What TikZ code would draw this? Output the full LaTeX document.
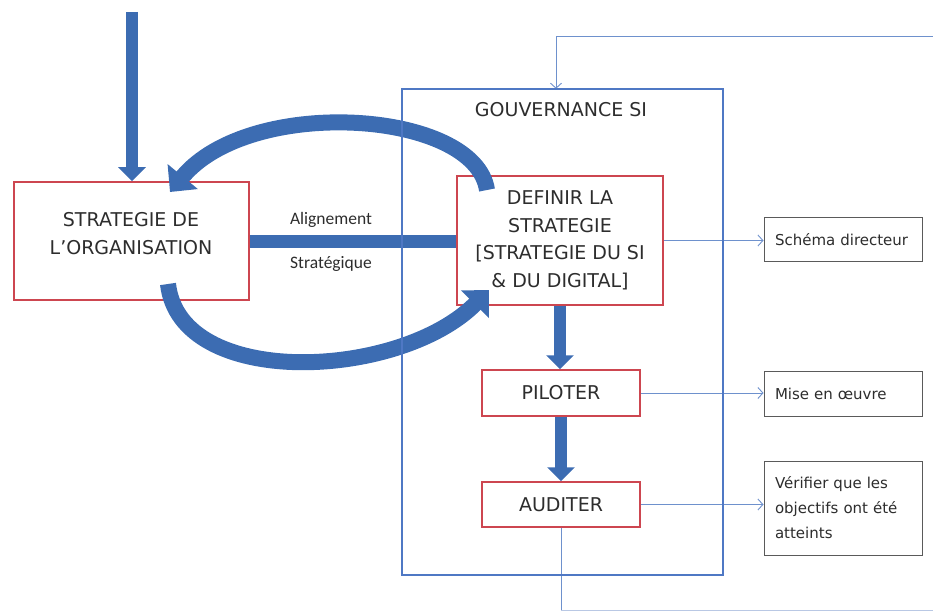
\documentclass[tikz,border=0pt]{standalone}
\usepackage{fontspec}
\setmainfont{DejaVu Sans}
\newfontfamily\calib{Carlito}
\usetikzlibrary{arrows.meta}
\definecolor{bandblue}{RGB}{60,108,178}
\definecolor{govblue}{RGB}{79,120,196}
\definecolor{boxred}{RGB}{205,70,80}
\definecolor{thinblue}{RGB}{110,145,205}
\definecolor{faintblue}{RGB}{185,200,228}
\definecolor{notegray}{RGB}{90,90,90}
\definecolor{txt}{RGB}{45,45,45}
\begin{document}
\begin{tikzpicture}[x=1pt,y=-1pt,
  redbox/.style={draw=boxred, line width=1.5pt, fill=white, inner sep=0pt},
  notebox/.style={draw=notegray, line width=1pt, fill=white, inner xsep=11pt, inner ysep=0pt, text width=136pt, align=left, font=\fontsize{15}{25}\selectfont, text=txt},
  boxtext/.style={font=\fontsize{19}{27.5}\selectfont, text=txt, align=center},
  band/.style={draw=bandblue, line width=13pt},
  bigarrow/.style={draw=bandblue, line width=12pt, -{Triangle[width=27pt,length=14pt]}},
  curvearrow/.style={draw=bandblue, line width=16pt, -{Triangle[width=38pt,length=20pt]}},
  thinarrow/.style={draw=thinblue, line width=0.9pt, -{Straight Barb[length=5pt,width=11pt]}},
  thinline/.style={draw=thinblue, line width=0.9pt},
  faintline/.style={draw=faintblue, line width=0.8pt},
  govline/.style={draw=govblue, line width=2.5pt}
]
\useasboundingbox (0,0) rectangle (933,612);

% outer frame (outline drawn last)
\node[minimum width=321pt, minimum height=486pt, inner sep=0pt] (gov) at (562.5,332) {};

% boxes
\node[redbox, minimum width=235pt, minimum height=118pt] (org) at (131.5,241) {};
\node[boxtext] (orgtxt) at (131,233.5) {STRATEGIE DE\\L'ORGANISATION};
\node[redbox, boxtext, minimum width=206pt, minimum height=129pt] (def) at (560,240.5) {DEFINIR LA\\STRATEGIE\\{[}STRATEGIE DU SI\\\& DU DIGITAL{]}};
\node[redbox, boxtext, minimum width=158pt, minimum height=46pt] (pil) at (561,393) {PILOTER};
\node[redbox, boxtext, minimum width=158pt, minimum height=45pt] (aud) at (561,504.5) {AUDITER};
\node[boxtext] (govtitle) at (561,110) {GOUVERNANCE SI};

\node[notebox, minimum height=44pt] (sch) at (843,239.5) {Schéma directeur};
\node[notebox, minimum height=45pt] (mise) at (843,393.5) {Mise en œuvre};
\node[notebox, minimum height=94pt] (ver) at (843,508) {Vérifier que les\\objectifs ont été\\atteints};

% labels of the alignment band
\node[font=\calib\fontsize{17.5}{20}\selectfont, text=txt] (al) at (331,220) {Alignement};
\node[font=\calib\fontsize{17.5}{20}\selectfont, text=txt] (st) at (331,264) {Stratégique};

% thick connectors
\coordinate (in) at (132,12);
\draw[bigarrow] (in) -- (in |- org.north);
\draw[band] (org.east) -- (org.east -| def.west);
\draw[bigarrow] (def.south) -- (def.south |- pil.north);
\draw[bigarrow] (pil.south) -- (aud.north);

\coordinate (u0) at (487,190);
\coordinate (u1) at (170,192);
\draw[curvearrow] (u0) .. controls (475,110) and (250,95) .. (u1);
\coordinate (l0) at (168,284);
\coordinate (l1) at (489,290);
\draw[curvearrow] (l0) .. controls (180,390) and (400,380) .. (l1);

% thin connectors
\draw[thinarrow] (def.east) -- (def.east -| sch.west);
\draw[thinarrow] (pil.east) -- (pil.east -| mise.west);
\draw[thinarrow] (aud.east) -- (aud.east -| ver.west);

\coordinate (fbR) at (933,36);
\coordinate (fbL) at (556,36);
\draw[thinarrow] (fbR) -- (fbL) -- (fbL |- gov.north);
\coordinate (fbB) at (933,610);
\draw[thinline] (aud.south) -- (aud.south |- fbB);
\draw[faintline] (aud.south |- fbB) -- (fbB);

% governance frame on top
\draw[govline] (gov.north west) rectangle (gov.south east);
\end{tikzpicture}
\end{document}
